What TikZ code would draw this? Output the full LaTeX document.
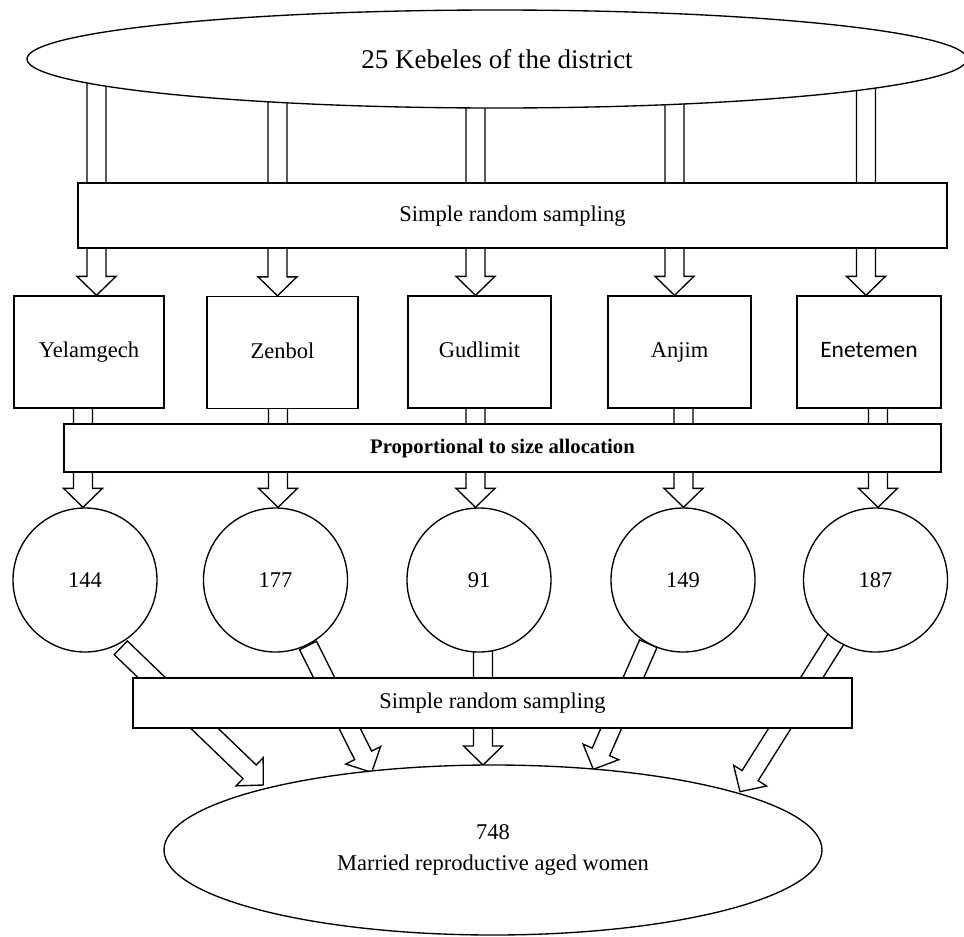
\documentclass[tikz,border=0pt]{standalone}
\usepackage{fontspec}
\setmainfont{Liberation Serif}
\newfontfamily\carlitofont{Carlito}
\usetikzlibrary{shapes.geometric,calc}
\pgfdeclarelayer{bg}
\pgfsetlayers{bg,main}
\tikzset{
  ln/.style={line width=1.35pt, draw=black, fill=white},
  txt/.style={font=\fontsize{22.5}{27}\selectfont},
  bandbox/.style={ln, txt, rectangle, inner sep=0pt, text height=16pt, text depth=5pt},
  kbox/.style={ln, txt, rectangle, inner sep=0pt, minimum height=112pt, text height=16pt, text depth=5pt},
  circ/.style={ln, txt, circle, inner sep=0pt, minimum size=144pt},
  oval/.style={ln, ellipse, inner sep=0pt},
  barrow/.style={line width=1.35pt, draw=black, fill=white, line join=miter},
}
\newcommand\blockarrow[2]{%
  \draw[barrow] ($(#1)!9.5pt!90:(#2)$)
    -- ($(#2)!19pt!(#1)!9.5pt!90:(#2)$)
    -- ($(#2)!19pt!(#1)!19.5pt!90:(#2)$)
    -- (#2)
    -- ($(#2)!19pt!(#1)!19.5pt!-90:(#2)$)
    -- ($(#2)!19pt!(#1)!9.5pt!-90:(#2)$)
    -- ($(#1)!9.5pt!-90:(#2)$) -- cycle;}
\begin{document}
\begin{tikzpicture}[x=1pt,y=-1pt]
\useasboundingbox (0,0) rectangle (964,937);
% nodes
\node[oval, minimum width=940pt, minimum height=98pt, font=\fontsize{27}{32}\selectfont] (top) at (497,59) {25 Kebeles of the district};
\node[bandbox, minimum width=869pt, minimum height=65pt] (band1) at (512.5,215.5) {Simple random sampling};
\node[kbox, minimum width=150pt] (k1) at (89,352) {Yelamgech};
\node[kbox, minimum width=151pt] (k2) at (282.5,352.5) {Zenbol};
\node[kbox, minimum width=143pt] (k3) at (479.5,352) {Gudlimit};
\node[kbox, minimum width=143pt] (k4) at (679.5,352) {Anjim};
\node[kbox, minimum width=144pt, font=\carlitofont\fontsize{23.5}{28}\selectfont] (k5) at (869,352) {Enetemen};
\node[bandbox, minimum width=877pt, minimum height=48pt, font=\bfseries\fontsize{20.7}{25}\selectfont, text height=15pt] (band2) at (502.5,448) {Proportional to size allocation};
\node[circ] (c1) at (85,580) {144};
\node[circ] (c2) at (275.5,580) {177};
\node[circ] (c3) at (479,580) {91};
\node[circ] (c4) at (683,580) {149};
\node[circ] (c5) at (875.5,580) {187};
\node[bandbox, minimum width=719pt, minimum height=50pt] (band3) at (492.5,703) {Simple random sampling};
\node[oval, minimum width=658pt, minimum height=170pt, align=center, font=\fontsize{22.5}{31}\selectfont] (bot) at (493,850) {748\\Married reproductive aged women};
% coordinates for arrows
\coordinate (a1s) at (96.5,60);  \coordinate (a1t) at (a1s |- k1.north);
\coordinate (a2s) at (277.5,60); \coordinate (a2t) at (a2s |- k2.north);
\coordinate (a3s) at (475.5,60); \coordinate (a3t) at (a3s |- k3.north);
\coordinate (a4s) at (674.5,60); \coordinate (a4t) at (a4s |- k4.north);
\coordinate (a5s) at (866,60);   \coordinate (a5t) at (a5s |- k5.north);
\coordinate (b1s) at (83,400);    \coordinate (b1t) at (b1s |- c1.north);
\coordinate (b2s) at (278,400);   \coordinate (b2t) at (b2s |- c2.north);
\coordinate (b3s) at (475.5,400); \coordinate (b3t) at (b3s |- c3.north);
\coordinate (b4s) at (683.5,400); \coordinate (b4t) at (b4s |- c4.north);
\coordinate (b5s) at (878,400);   \coordinate (b5t) at (b5s |- c5.north);
\coordinate (d1s) at (120.8,647.8); \coordinate (d1t) at (263.3,785);
\coordinate (d2s) at (308,645.5);   \coordinate (d2t) at (371.7,772.3);
\coordinate (d3s) at (483,648);     \coordinate (d3t) at (483,765);
\coordinate (d4s) at (648.3,643.7); \coordinate (d4t) at (593.3,769.3);
\coordinate (d5s) at (836.2,638.7); \coordinate (d5t) at (740,791.7);
\begin{pgfonlayer}{bg}
\fill[white] (0,0) rectangle (964,937);
\foreach \i in {1,...,5} {
  \blockarrow{a\i s}{a\i t}
  \blockarrow{b\i s}{b\i t}
  \blockarrow{d\i s}{d\i t}
}
\end{pgfonlayer}
\end{tikzpicture}
\end{document}
